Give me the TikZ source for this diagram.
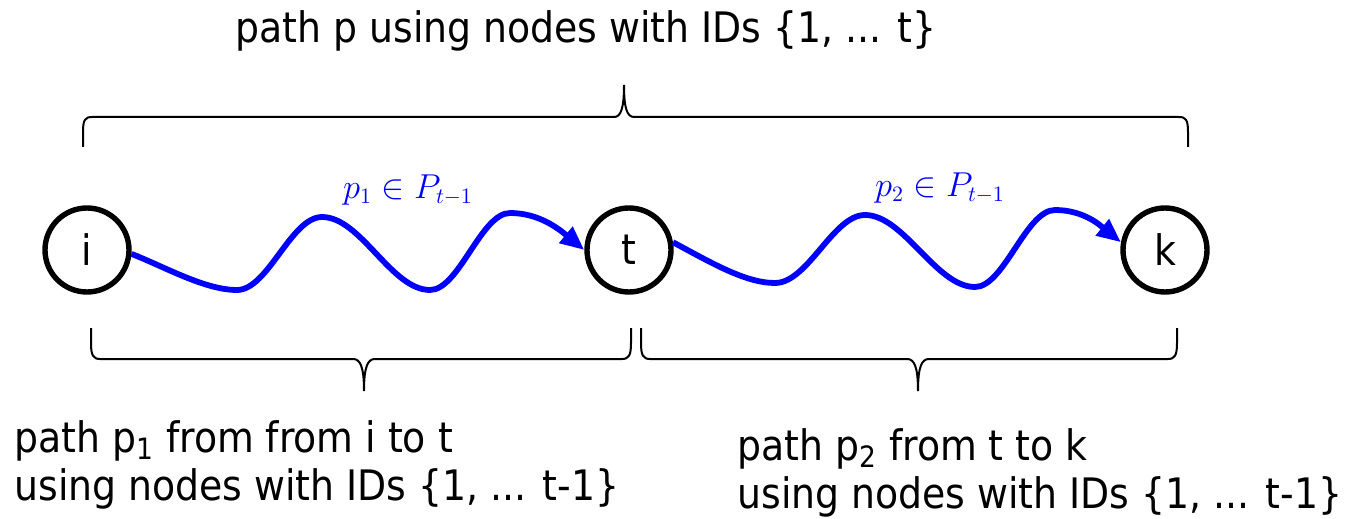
\documentclass[tikz,border=0pt]{standalone}
\usepackage{amsmath}
\usepackage[no-math]{fontspec}
\setmainfont{DejaVu Sans Condensed}
\usetikzlibrary{arrows.meta}

\begin{document}
\begin{tikzpicture}[x=0.5pt,y=-0.5pt,>={Triangle[length=12pt,width=10pt]},
  vert/.style={circle,draw,line width=2.7pt,minimum size=42pt,inner sep=0pt,
    font=\fontsize{21}{25}\selectfont},
  wave/.style={blue,line width=2.9pt,->},
  brace/.style={line width=1pt},
  lbl/.style={blue,font=\fontsize{16}{18}\selectfont},
  txt/.style={inner sep=0pt,align=left,font=\fontsize{21}{24}\selectfont}]
  \useasboundingbox (0,0) rectangle (1345,519);
  \node[vert] (i) at (87,250) {i};
  \node[vert] (t) at (629,250) {t};
  \node[vert] (k) at (1165,250) {k};
  % the two sub-paths
  \draw[wave] (i.-5) .. controls (165,267) and (205,290) .. (237,290)
    .. controls (268,290) and (291,217) .. (322,217)
    .. controls (361,217) and (391,290) .. (430,290)
    .. controls (459,290) and (481,213) .. (510,213)
    .. controls (540,213) and (560,230) .. (t.west);
  \draw[wave] (t.10) .. controls (710,262) and (745,283) .. (775,283)
    .. controls (808,283) and (833,215) .. (865,215)
    .. controls (904,215) and (936,287) .. (975,287)
    .. controls (1004,287) and (1026,210) .. (1055,210)
    .. controls (1085,210) and (1102,227) .. (k.170);
  \node[lbl] (l1) at (408,190) {$p_1\in P_{t-1}$};
  \node[lbl] (l2) at (940,188) {$p_2\in P_{t-1}$};
  % braces
  \draw[brace] (83,147) -- (83,132) .. controls (83,120) and (85,117) .. (92,117)
    -- (614,117) .. controls (621,117) and (624,108) .. (624,85)
    .. controls (624,108) and (627,117) .. (634,117)
    -- (1179,117) .. controls (1186,117) and (1188,120) .. (1188,132) -- (1188,147);
  \draw[brace] (91,328) -- (91,343) .. controls (91,355) and (93,359) .. (100,359)
    -- (353,359) .. controls (360,359) and (364,366) .. (364,391)
    .. controls (364,366) and (368,359) .. (375,359)
    -- (622,359) .. controls (629,359) and (631,355) .. (631,343) -- (631,328);
  \draw[brace] (641,328) -- (641,343) .. controls (641,355) and (643,359) .. (650,359)
    -- (907,359) .. controls (914,359) and (918,366) .. (918,391)
    .. controls (918,366) and (922,359) .. (929,359)
    -- (1168,359) .. controls (1175,359) and (1177,355) .. (1177,343) -- (1177,328);
  % texts
  \node[txt] (top) at (586,31) {path p using nodes with IDs \{1, ... t\}};
  \node[txt,anchor=north west] (bl) at (14,420)
    {path p\textsubscript{1} from from i to t\\using nodes with IDs \{1, ... t-1\}};
  \node[txt,anchor=north west] (br) at (737,428)
    {path p\textsubscript{2} from t to k\\using nodes with IDs \{1, ... t-1\}};
\end{tikzpicture}
\end{document}
